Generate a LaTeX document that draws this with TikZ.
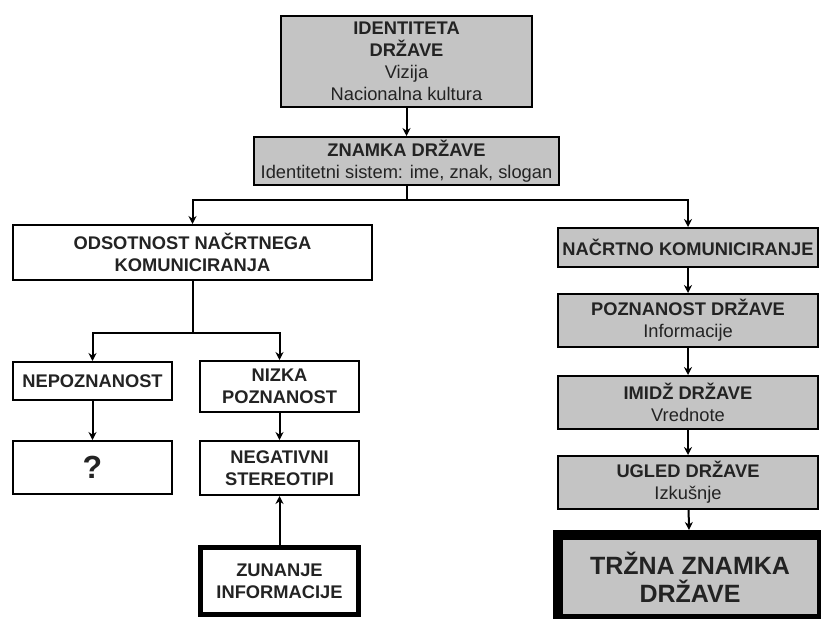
\documentclass[tikz,border=0pt]{standalone}
\usepackage{fontspec}
\setmainfont{Liberation Sans}
\usetikzlibrary{arrows.meta}
\definecolor{boxgray}{RGB}{196,196,196}
\definecolor{ink}{RGB}{35,35,35}
\begin{document}
\begin{tikzpicture}[x=1pt,y=-1pt,
  box/.style={draw=black, line width=2pt, fill=white, align=center, inner sep=0pt,
    font=\fontsize{18.3}{22}\selectfont, text=ink},
  bbox/.style={box, font=\fontsize{18.3}{22}\selectfont\bfseries},
  gbox/.style={box, fill=boxgray},
  arr/.style={line width=2pt, -{Stealth[length=8pt,width=8pt]}},
  ln/.style={line width=2pt}
]
\useasboundingbox (0,0) rectangle (821,618);
% top
\node[gbox, minimum width=251, minimum height=91] (id) at (406.5,61.5)
  {\textbf{IDENTITETA}\\\textbf{DRŽAVE}\\Vizija\\Nacionalna kultura};
\node[gbox, minimum width=305, minimum height=48] (zn) at (406.5,161)
  {\textbf{ZNAMKA DRŽAVE}\\Identitetni sistem: ime, znak, slogan};
% left branch
\node[bbox, minimum width=359, minimum height=55] (ods) at (192.5,252.5)
  {ODSOTNOST NAČRTNEGA\\KOMUNICIRANJA};
\node[bbox, minimum width=159, minimum height=38] (nep) at (92.5,381) {NEPOZNANOST};
\node[bbox, minimum width=159, minimum height=51] (niz) at (279.5,386.5) {NIZKA\\POZNANOST};
\node[box, minimum width=159, minimum height=53, font=\fontsize{32}{36}\selectfont\bfseries] (q) at (92.5,467.5) {?};
\node[bbox, minimum width=159, minimum height=54] (neg) at (279.5,468) {NEGATIVNI\\STEREOTIPI};
\node[bbox, line width=4.5pt, minimum width=158, minimum height=67] (zun) at (279.5,581) {ZUNANJE\\INFORMACIJE};
% right branch
\node[gbox, minimum width=260, minimum height=39, font=\fontsize{18.3}{22}\selectfont\bfseries] (nac) at (688,247.5) {NAČRTNO KOMUNICIRANJE};
\node[gbox, minimum width=260, minimum height=53] (poz) at (688,320.5) {\textbf{POZNANOST DRŽAVE}\\Informacije};
\node[gbox, minimum width=260, minimum height=53] (imi) at (688,402.5) {\textbf{IMIDŽ DRŽAVE}\\Vrednote};
\node[gbox, minimum width=260, minimum height=53] (ugl) at (688,482.5) {\textbf{UGLED DRŽAVE}\\Izkušnje};
\node[gbox, line width=10pt, minimum width=264, minimum height=84, font=\fontsize{25}{28}\selectfont\bfseries] (trz) at (690,577) {TRŽNA ZNAMKA\\DRŽAVE};
% connectors
\draw[arr] (id) -- (zn);
\coordinate (s1) at (zn.south |- 0,200);
\draw[ln] (zn.south) -- (s1);
\draw[arr] (s1) -| (ods.north);
\draw[arr] (s1) -| (nac.north);
\coordinate (s2) at (ods.south |- 0,333);
\draw[ln] (ods.south) -- (s2);
\draw[arr] (s2) -| (nep.north);
\draw[arr] (s2) -| (niz.north);
\draw[arr] (nep) -- (q);
\draw[arr] (niz) -- (neg);
\draw[arr] (zun) -- (neg);
\draw[arr] (nac) -- (poz);
\draw[arr] (poz) -- (imi);
\draw[arr] (imi) -- (ugl);
\draw[arr] (ugl) -- (trz);
\end{tikzpicture}
\end{document}
